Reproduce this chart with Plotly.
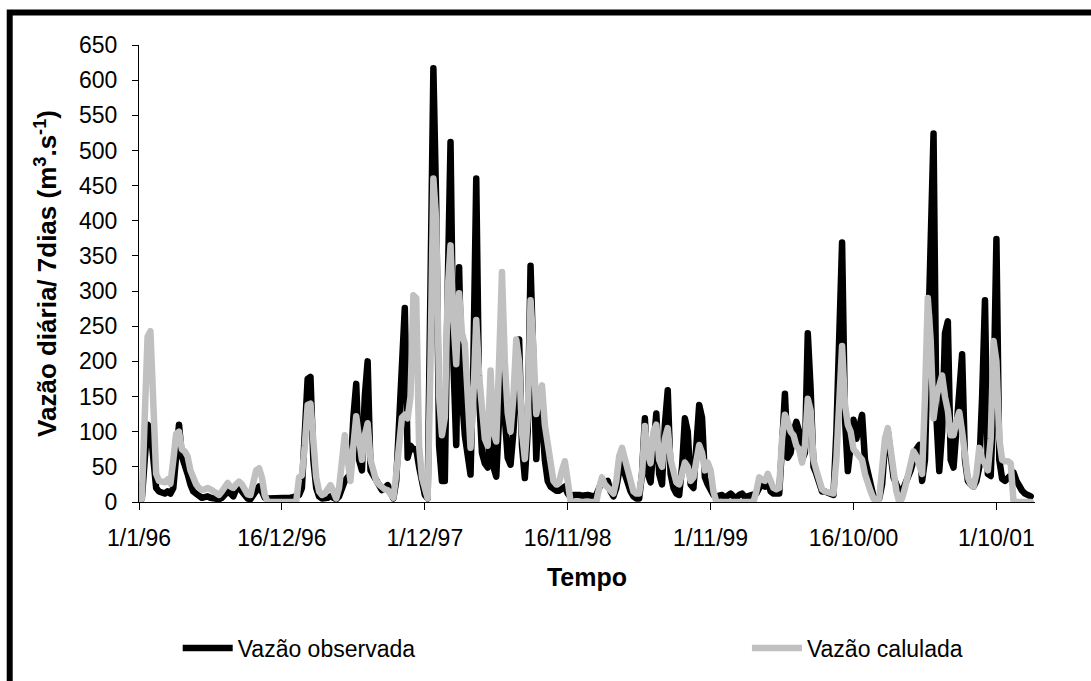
import plotly.graph_objects as go

# weekly mean flows (m3/s), one value per 7-day step starting 1/1/96
vazao_obs = [
    0, 5, 60, 110, 105, 50, 20, 15, 14, 12, 15, 12, 20, 70, 110, 65, 55, 40, 25, 15,
    12, 8, 6, 7, 8, 6, 5, 4, 4, 6, 10, 15, 12, 8, 18, 22, 15, 8, 5, 4,
    10, 18, 22, 15, 6, 5, 5, 4, 5, 5, 6, 6, 5, 6, 7, 8, 10, 20, 90, 175,
    178, 60, 20, 8, 5, 5, 6, 8, 5, 4, 8, 20, 30, 35, 40, 120, 168, 60, 45, 150,
    200, 45, 38, 32, 22, 17, 20, 24, 15, 5, 30, 114, 230, 276, 63, 80, 75, 75, 50, 30,
    10, 5, 300, 617, 420, 80, 30, 30, 300, 512, 200, 81, 334, 150, 95, 60, 39, 200, 460, 150,
    70, 55, 49, 120, 50, 36, 120, 260, 120, 63, 53, 100, 180, 231, 80, 34, 100, 336, 200, 61,
    148, 120, 60, 30, 22, 18, 16, 16, 18, 22, 12, 7, 10, 11, 10, 9, 10, 10, 9, 8,
    10, 20, 30, 28, 30, 15, 8, 20, 50, 67, 40, 25, 15, 8, 5, 5, 40, 119, 40, 28,
    80, 126, 40, 25, 110, 159, 40, 20, 12, 10, 50, 119, 100, 25, 20, 80, 138, 120, 35, 25,
    15, 10, 8, 8, 10, 6, 8, 12, 8, 6, 10, 12, 7, 8, 10, 12, 12, 20, 25, 22,
    30, 15, 12, 12, 12, 80, 154, 63, 70, 100, 114, 100, 60, 70, 240, 160, 50, 40, 25, 15,
    15, 14, 12, 10, 100, 250, 369, 120, 44, 80, 117, 90, 110, 124, 60, 44, 25, 8, 5, 5,
    25, 80, 100, 60, 35, 25, 15, 15, 25, 30, 45, 60, 75, 81, 30, 60, 200, 400, 524, 120,
    44, 100, 240, 257, 60, 49, 100, 170, 210, 60, 30, 25, 22, 30, 50, 150, 287, 40, 37, 150,
    374, 60, 33, 30, 35, 40, 42, 30, 22, 16, 12, 10, 8,
]

vazao_calc = [
    0, 5, 120, 235, 243, 120, 40, 30, 30, 28, 32, 26, 60, 97, 100, 75, 72, 65, 45, 32,
    25, 20, 17, 18, 20, 18, 15, 12, 10, 15, 22, 27, 22, 20, 25, 29, 25, 18, 11, 10,
    30, 45, 48, 35, 10, 0, 0, 0, 0, 0, 0, 0, 0, 0, 0, 0, 35, 38, 80, 138,
    140, 70, 35, 15, 10, 12, 20, 24, 15, 5, 20, 70, 95, 60, 30, 80, 122, 90, 60, 95,
    112, 60, 45, 30, 25, 20, 18, 17, 10, 6, 40, 95, 120, 124, 119, 150, 294, 290, 80, 35,
    15, 5, 200, 460, 400, 150, 95, 120, 300, 365, 260, 196, 297, 240, 225, 150, 77, 150, 259, 180,
    120, 90, 80, 187, 100, 86, 200, 327, 200, 127, 100, 150, 231, 200, 100, 61, 120, 287, 220, 125,
    150, 166, 110, 80, 50, 30, 25, 28, 45, 58, 30, 0, 0, 0, 0, 0, 0, 0, 0, 0,
    0, 20, 35, 25, 20, 15, 12, 30, 65, 77, 60, 45, 30, 15, 12, 12, 40, 108, 70, 55,
    100, 110, 60, 50, 90, 105, 60, 38, 28, 25, 40, 56, 50, 30, 35, 60, 81, 70, 45, 56,
    45, 15, 0, 0, 0, 0, 0, 0, 0, 0, 0, 0, 0, 0, 0, 0, 15, 35, 32, 30,
    40, 30, 20, 18, 20, 90, 124, 114, 100, 95, 80, 75, 56, 80, 147, 130, 60, 45, 30, 18,
    15, 14, 14, 12, 60, 150, 222, 140, 110, 100, 75, 70, 65, 60, 40, 25, 15, 5, 0, 5,
    40, 90, 105, 70, 40, 15, 0, 5, 20, 35, 55, 72, 65, 55, 40, 150, 290, 230, 119, 150,
    170, 180, 150, 130, 95, 95, 115, 128, 100, 60, 35, 25, 22, 40, 77, 60, 55, 45, 90, 229,
    200, 90, 60, 58, 58, 55, 0, 0, 0, 0, 0, 0, 0,
]

tick_labels = ["1/1/96", "16/12/96", "1/12/97", "16/11/98", "1/11/99", "16/10/00", "1/10/01"]
tick_step = 50  # one label every 50 weeks

semanas = list(range(len(vazao_obs)))

FONT = "Arial, Liberation Sans, sans-serif"

fig = go.Figure()
fig.add_trace(go.Scatter(x=semanas, y=vazao_obs, mode="lines", name="Vazão observada",
                         line=dict(color="#000000", width=6.5), legend="legend"))
fig.add_trace(go.Scatter(x=semanas, y=vazao_calc, mode="lines", name="Vazão calulada",
                         line=dict(color="#C0C0C0", width=6.5), legend="legend2"))

fig.update_xaxes(range=[0, 313.5], tickvals=[i * tick_step for i in range(len(tick_labels))],
                 ticktext=tick_labels, ticks="outside", ticklen=7, tickcolor="black",
                 showline=True, linecolor="black", linewidth=1, showgrid=False, zeroline=False,
                 tickfont=dict(size=23, color="black"), ticklabelstandoff=8,
                 title=dict(text="<b>Tempo</b>", font=dict(size=25, color="black"), standoff=18),
                 automargin=False)
fig.update_yaxes(range=[0, 650], dtick=50, ticks="outside", ticklen=6, tickcolor="black",
                 showline=True, linecolor="black", linewidth=1, showgrid=False, zeroline=False,
                 tickfont=dict(size=23, color="black"), ticklabelstandoff=10,
                 title=dict(text="<b>Vazão diária/ 7dias (m<sup>3</sup>.s<sup>-1</sup>)</b>",
                            font=dict(size=26, color="black"), standoff=14),
                 automargin=False)

# thick frame on the left and top of the chart area
fig.add_shape(type="rect", xref="paper", yref="paper",
              x0=-0.1443, x1=1.3, y0=-0.6, y1=1.0713,
              line=dict(color="black", width=6))

legend_style = dict(orientation="h", xanchor="left", y=-0.3197, yanchor="middle",
                    font=dict(size=23, color="black"), itemwidth=50, bgcolor="rgba(0,0,0,0)")

fig.update_layout(
    width=1091, height=681,
    margin=dict(l=139, r=56, t=45, b=173),
    paper_bgcolor="white", plot_bgcolor="white",
    font=dict(family=FONT, color="black"),
    showlegend=True,
    legend=dict(x=0.0432, **legend_style),
    legend2=dict(x=0.6785, **legend_style),
)

page_fix = (
    "document.body.style.margin='0px';"
    "document.querySelectorAll('.scatterlayer .js-line').forEach(function(p){"
    "p.style.strokeLinejoin='round';p.style.strokeLinecap='round';});"
)
fig.write_html("out.html", post_script=page_fix, config={"displayModeBar": False})
